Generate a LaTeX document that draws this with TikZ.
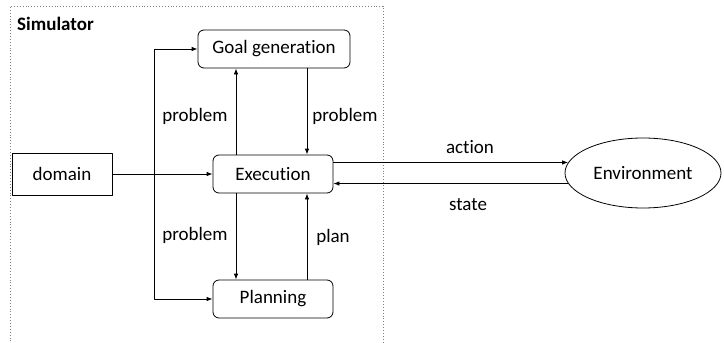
\documentclass[tikz,border=0pt]{standalone}
\usepackage{fontspec}
\setmainfont{Carlito}[Ligatures={NoCommon}]
\usetikzlibrary{arrows.meta,shapes.geometric}
\tikzset{
	khoi/.style={draw,rounded corners=6pt,line width=0.8pt,inner sep=0pt},
	muiten/.style={-{Latex[length=6pt,width=4.5pt]},line width=0.8pt},
	nhan/.style={inner sep=0pt}
}
\begin{document}
\begin{tikzpicture}[x=1pt,y=-1pt,line join=round,font=\fontsize{19}{22}\selectfont]
	%==Khung hình
	\useasboundingbox (0,0) rectangle (724,343);
	\draw[gray,dotted,line width=0.9pt] (10,350)--(10,6)--(383,6)--(383,350);
	\node[nhan,anchor=west,font=\fontsize{19}{22}\selectfont\bfseries] (sim) at (17,24) {Simulator};
	%==Các khối
	\node[khoi,minimum width=152pt,minimum height=38pt] (goal) at (274,49) {Goal generation};
	\node[khoi,minimum width=120pt,minimum height=38pt] (exec) at (273,174) {Execution};
	\node[khoi,minimum width=120pt,minimum height=38pt] (plan) at (273,299) {Planning};
	\node[draw,line width=0.8pt,inner sep=0pt,minimum width=100pt,minimum height=42pt] (dom) at (62,174) {domain};
	\node[draw,ellipse,line width=0.8pt,inner sep=0pt,minimum width=156pt,minimum height=70pt] (env) at (643,173) {Environment};
	\coordinate (lx) at (236,0);
	\coordinate (rx) at (307,0);
	\coordinate (split) at (154,174);
	%==Các mũi tên
	\draw[muiten] (dom.east)--(exec.west);
	\draw[muiten] (split)|-(goal.west);
	\draw[muiten] (split)|-(plan.west);
	\draw[muiten] (exec.north-|lx)--(goal.south-|lx);
	\draw[muiten] (goal.south-|rx)--(exec.north-|rx);
	\draw[muiten] (exec.south-|lx)--(plan.north-|lx);
	\draw[muiten] (plan.north-|rx)--(exec.south-|rx);
	\draw[muiten] (exec.east|-env.172)--(env.172);
	\draw[muiten] (env.188)--(exec.east|-env.188);
	%==Nhãn
	\node[nhan] (p1) at (195,116) {problem};
	\node[nhan] (p2) at (345,116) {problem};
	\node[nhan] (p3) at (195,235) {problem};
	\node[nhan] (pl) at (333,237) {plan};
	\node[nhan] (act) at (470,147) {action};
	\node[nhan] (st) at (468,205) {state};
\end{tikzpicture}
\end{document}
